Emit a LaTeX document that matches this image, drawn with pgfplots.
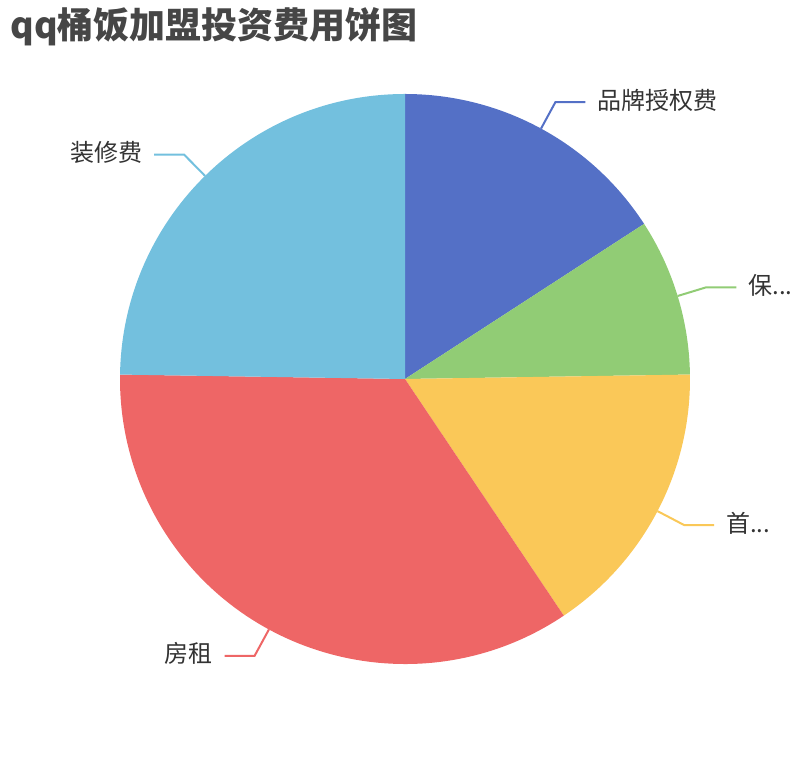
\documentclass[border=0pt]{standalone}
\usepackage{fontspec}
\setmainfont{Noto Sans CJK SC}
\usepackage{pgfplots}
\usepackage{pgfplotstable}
\pgfplotsset{compat=1.18}

\definecolor{c0}{HTML}{5470C6}
\definecolor{c1}{HTML}{91CC75}
\definecolor{c2}{HTML}{FAC858}
\definecolor{c3}{HTML}{EE6666}
\definecolor{c4}{HTML}{73C0DE}
\definecolor{titlegray}{HTML}{464646}
\definecolor{labelgray}{HTML}{333333}

% slice values, clockwise from 12 o'clock
\pgfplotstableread{
name value
品牌授权费 3.2
保... 1.8
首... 3.2
房租 7
装修费 5
}\piedata

% angles for each slice (start, end, middle) and label side
\pgfplotstablegetrowsof{\piedata}
\pgfmathtruncatemacro\nlast{\pgfplotsretval-1}
\gdef\total{0}
\foreach \i in {0,...,\nlast}{%
  \pgfplotstablegetelem{\i}{value}\of\piedata
  \pgfmathsetmacro\tmp{\total+\pgfplotsretval}%
  \xdef\total{\tmp}%
}
\gdef\cum{0}
\foreach \i in {0,...,\nlast}{%
  \pgfplotstablegetelem{\i}{value}\of\piedata
  \pgfmathsetmacro\s{90-360*\cum/\total}%
  \pgfmathsetmacro\newcum{\cum+\pgfplotsretval}%
  \pgfmathsetmacro\e{90-360*\newcum/\total}%
  \pgfmathsetmacro\m{(\s+\e)/2}%
  \pgfmathsetmacro\d{cos(\m)>=0 ? 1 : -1}%
  \expandafter\xdef\csname ps\i\endcsname{\s}%
  \expandafter\xdef\csname pe\i\endcsname{\e}%
  \expandafter\xdef\csname pm\i\endcsname{\m}%
  \expandafter\xdef\csname pd\i\endcsname{\d}%
  \ifdim\d pt>0pt
    \expandafter\xdef\csname pa\i\endcsname{base west}%
  \else
    \expandafter\xdef\csname pa\i\endcsname{base east}%
  \fi
  \xdef\cum{\newcum}%
  \pgfplotstablegetelem{\i}{name}\of\piedata
  \expandafter\xdef\csname pn\i\endcsname{\pgfplotsretval}%
}

\begin{document}
\begin{tikzpicture}
\begin{axis}[
  width=405pt, height=380pt, scale only axis,
  xmin=0, xmax=810, ymin=0, ymax=760,
  hide axis, clip=false,
]
\path (rel axis cs:0,0) rectangle (rel axis cs:1,1);
\node[anchor=base west, inner sep=0, text=titlegray,
      font=\bfseries\fontsize{18}{21}\selectfont]
  at (axis cs:10,721) {qq桶饭加盟投资费用饼图};
\pgfplotsinvokeforeach{0,...,4}{
  \fill[c#1] (axis cs:405,381) -- ++(\csname ps#1\endcsname:142.5pt)
    arc[start angle=\csname ps#1\endcsname, end angle=\csname pe#1\endcsname, radius=142.5pt] -- cycle;
}
\pgfplotsinvokeforeach{0,...,4}{
  \draw[c#1, line width=1pt] (axis cs:405,381) ++(\csname pm#1\endcsname:142.5pt)
    -- ++(\csname pm#1\endcsname:15pt) -- ++({\csname pd#1\endcsname*15pt},0pt)
    node[anchor=\csname pa#1\endcsname, inner sep=0, xshift={\csname pd#1\endcsname*5.5pt},
         yshift=-3.5pt, text=labelgray, font=\fontsize{12}{14}\selectfont]
    {\csname pn#1\endcsname};
}
\end{axis}
\end{tikzpicture}
\end{document}
